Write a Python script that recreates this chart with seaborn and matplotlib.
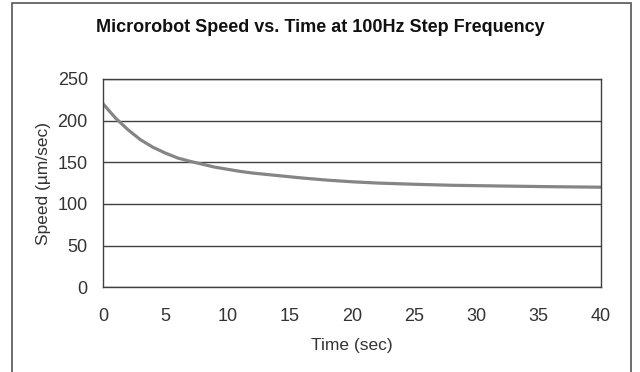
"""
Microrobot speed vs. time at 100Hz step frequency
"""
import pandas as pd
import matplotlib.pyplot as plt
import seaborn as sns
from matplotlib.patches import Rectangle

sns.set_style('white')
plt.rcParams['font.family'] = ['Liberation Sans', 'DejaVu Sans']

# values
time_sec = [0, 1, 2, 3, 4, 5, 6, 7, 8, 9, 10, 11, 12, 13, 14, 16, 18, 20, 22, 25,
            28, 32, 36, 40]
speed = [220, 203, 189, 177, 168, 161, 155, 151, 147.5, 144, 141.5, 139, 137, 135.5,
         134, 131, 128.5, 126.5, 125, 123.5, 122.3, 121.4, 120.6, 120]

df = pd.DataFrame({'Time (sec)': time_sec, 'Speed': speed})

fig = plt.figure(figsize=(6.4, 3.72), dpi=100)
ax = fig.add_axes([0.161, 0.228, 0.778, 0.560])

sns.lineplot(data=df, x='Time (sec)', y='Speed', ax=ax, color='#858585', linewidth=2.3)

ax.set_xlim(0, 40)
ax.set_ylim(0, 250)
ax.set_xticks(range(0, 41, 5))
ax.set_yticks(range(0, 251, 50))
ax.grid(axis='y', color='#404040', linewidth=1.0)
ax.set_axisbelow(True)
for s in ax.spines.values():
    s.set_color('#404040')
    s.set_linewidth(1.0)

ax.tick_params(axis='x', direction='in', length=5, width=1, color='#404040',
               labelsize=13, pad=15, labelcolor='#333333')
ax.tick_params(axis='y', length=0, labelsize=13, pad=11, labelcolor='#333333')

ax.set_xlabel('Time (sec)', fontsize=12.5, color='#333333', labelpad=9)
ax.set_ylabel('Speed (µm/sec)', fontsize=12.5, color='#333333', labelpad=5)
fig.text(0.5, 0.927, 'Microrobot Speed vs. Time at 100Hz Step Frequency',
         ha='center', va='center', fontsize=13, fontweight='bold', color='#111111')

# outer chart frame
fig.patches.append(Rectangle((12 / 640, -0.05), 619 / 640, 1 - 3 / 372 + 0.05,
                             transform=fig.transFigure, fill=False,
                             edgecolor='#555555', linewidth=1.2))

fig.savefig('out.png', dpi=100)
